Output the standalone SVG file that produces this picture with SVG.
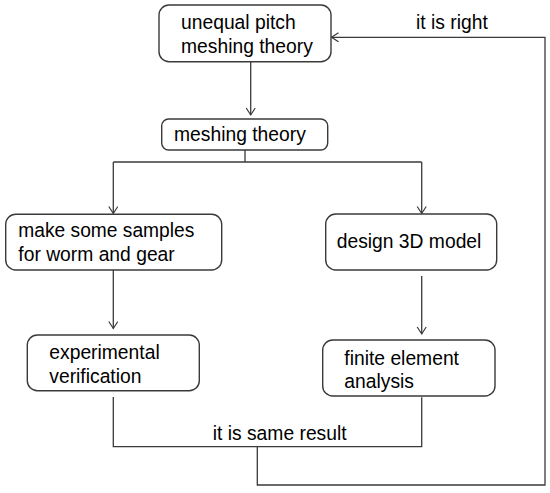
<svg xmlns="http://www.w3.org/2000/svg" width="550" height="493" viewBox="0 0 550 493">
<style>
.box{fill:#fff;stroke:#3a3a3a;stroke-width:1.4}
.ln{fill:none;stroke:#3a3a3a;stroke-width:1.3}
.t{font-family:"Liberation Sans",Arial,sans-serif;font-size:19.3px;fill:#000}
</style>
<defs>
<marker id="arr" markerUnits="userSpaceOnUse" markerWidth="12" markerHeight="12" refX="8" refY="5" orient="auto">
<path d="M1,0.5 L8,5 L1,9.5" fill="none" stroke="#3a3a3a" stroke-width="1.2"/>
</marker>
</defs>
<rect width="550" height="493" fill="#fff"/>
<g id="connectors">
<line class="ln" x1="250.7" y1="62" x2="250.7" y2="115" marker-end="url(#arr)"/>
<polyline class="ln" points="245,150 245,162"/>
<polyline class="ln" points="113.3,162 421.7,162"/>
<line class="ln" x1="113.3" y1="162" x2="113.3" y2="213.5" marker-end="url(#arr)"/>
<line class="ln" x1="421.7" y1="162" x2="421.7" y2="213.5" marker-end="url(#arr)"/>
<line class="ln" x1="113.3" y1="270" x2="113.3" y2="328.5" marker-end="url(#arr)"/>
<line class="ln" x1="421.7" y1="276" x2="421.7" y2="334" marker-end="url(#arr)"/>
<polyline class="ln" points="113.3,397 113.3,446.7 421.7,446.7 421.7,397.3"/>
<polyline class="ln" points="257.3,446.7 257.3,485 545,485 545,37.3 331.5,37.3" marker-end="url(#arr)"/>
<text class="t" x="212.7" y="440">it is same result</text>
<text class="t" x="416" y="29.3">it is right</text>
</g>
<g id="n1">
<rect class="box" x="159" y="5" width="172" height="56.7" rx="10"/>
<text class="t" x="181" y="29.3">unequal pitch</text>
<text class="t" x="181" y="53.3">meshing theory</text>
</g>
<g id="n2">
<rect class="box" x="161.7" y="119" width="166" height="31" rx="7"/>
<text class="t" x="174" y="141">meshing theory</text>
</g>
<g id="n3">
<rect class="box" x="5.7" y="214.3" width="216" height="55.7" rx="10"/>
<text class="t" x="18.3" y="236.7" textLength="176" lengthAdjust="spacingAndGlyphs">make some samples</text>
<text class="t" x="18.3" y="261">for worm and gear</text>
</g>
<g id="n4">
<rect class="box" x="325.7" y="214" width="171" height="56" rx="10"/>
<text class="t" x="336.7" y="247.7">design 3D model</text>
</g>
<g id="n5">
<rect class="box" x="27.3" y="335" width="172" height="55.7" rx="10"/>
<text class="t" x="49.3" y="359.3">experimental</text>
<text class="t" x="49.3" y="383.3">verification</text>
</g>
<g id="n6">
<rect class="box" x="322.7" y="340" width="172.3" height="56" rx="10"/>
<text class="t" x="344.3" y="365">finite element</text>
<text class="t" x="344.3" y="388.3">analysis</text>
</g>
</svg>
